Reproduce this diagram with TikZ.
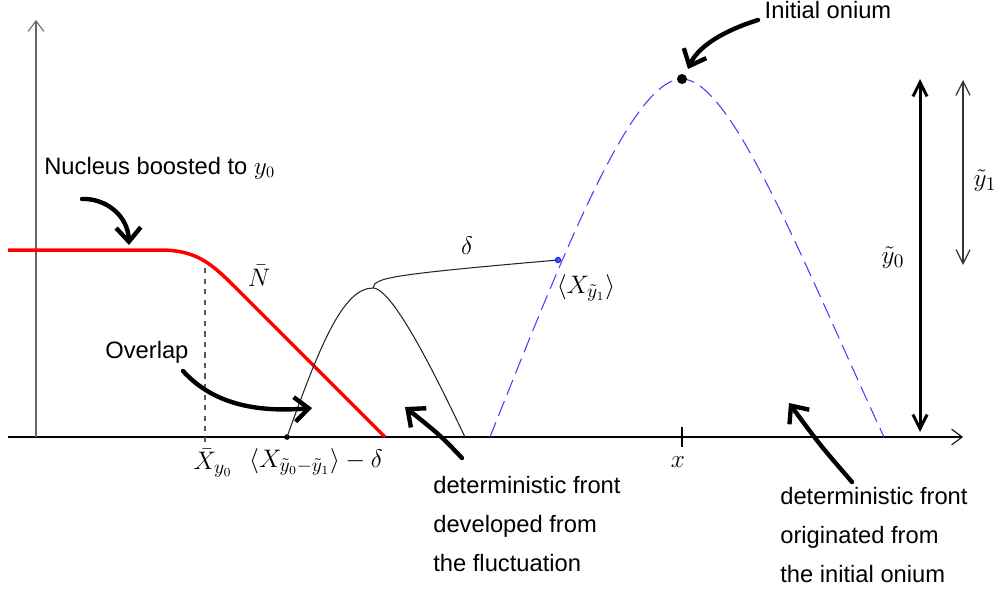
\documentclass[tikz,border=0pt]{standalone}
\usepackage{amsmath,amssymb}
\usepackage{fontspec}
\setmainfont{Liberation Sans}
\usetikzlibrary{arrows.meta,positioning,calc}

\begin{document}
\begin{tikzpicture}[x=0.02cm, y=-0.02cm,
  axis/.style={line width=0.6pt, -{Straight Barb[length=6pt,width=9pt]}},
  front/.style={line width=0.6pt, black!85},
  nucleus/.style={red, line width=2pt},
  onium/.style={blue!75, line width=0.6pt, dash pattern=on 9pt off 4pt},
  hand/.style={line width=2.5pt, line cap=round, -{Straight Barb[length=8pt,width=14pt,line width=2.5pt]}},
  span/.style={{Straight Barb[length=8pt,width=8pt]}-{Straight Barb[length=8pt,width=8pt]}},
  lbl/.style={font=\fontsize{13.5}{22.2}\selectfont, align=left, inner sep=0pt},
  mth/.style={font=\fontsize{15}{18}\selectfont, inner sep=1pt}
]
\useasboundingbox (0,0) rectangle (1000,593);

% axes
\coordinate (xstart) at (8,437);
\coordinate (xend) at (963,437);
\coordinate (origin) at (36,437);
\coordinate (ytop) at (36,20);
\draw[axis] (xstart) -- (xend);
\draw[axis, black!60] (origin) -- (ytop);
\draw[line width=0.6pt] (682,427) -- (682,447);

% nucleus front
\draw[nucleus] (8,250) -- (160,250) .. controls (195,250) and (210,262) .. (235,287) -- (385,437);
\draw[dashed, black!65, line width=0.6pt] (205,268) -- (205,443);

% fluctuation front
\coordinate (fstart) at (287,437);
\coordinate (fpeak) at (373,288);
\fill (fstart) circle (1.6pt);
\draw[front] (fstart) .. controls (320,345) and (343,288) .. (fpeak) .. controls (395,288) and (447,400) .. (465,437);

% onium front
\coordinate (opeak) at (682,79);
\draw[onium] (490,437) .. controls (565,249.5) and (632,79) .. (opeak) .. controls (732,79) and (804,265) .. (884,437);
\node[circle, fill=blue!70, draw=blue, inner sep=0pt, minimum size=1.1mm] (bdot) at (558,260) {};
\node[circle, fill=black, inner sep=0pt, minimum size=2mm] (odot) at (opeak) {};
\draw[front] (fpeak) .. controls (375,278) and (385,275) .. (bdot);

% rapidity spans
\coordinate (y0top) at (920,79);
\coordinate (y0bot) at (920,432);
\coordinate (y1top) at (963,80);
\coordinate (y1bot) at (963,265);
\draw[span, line width=1.7pt] (y0top) -- (y0bot);
\draw[span, line width=0.7pt, black!80] (y1top) -- (y1bot);

% labels
\node[mth] (nbar) at (259,276) {$\bar N$};
\node[mth] (xbar) at (213,463) {$\bar X_{y_0}$};
\node[mth] (xfl) at (316,462) {$\langle X_{\tilde y_0-\tilde y_1}\rangle-\delta$};
\node[mth] (dl) at (467,246) {$\delta$};
\node[mth] (xy1) at (586,288) {$\langle X_{\tilde y_1}\rangle$};
\node[mth] (xl) at (678,462) {$x$};
\node[mth] (ty0) at (893,258) {$\tilde y_0$};
\node[mth] (ty1) at (985,181) {$\tilde y_1$};

\node[lbl, anchor=west] (nucl) at (44,168) {Nucleus boosted to $y_0$};
\node[lbl, anchor=west] (ovl) at (105,352) {Overlap};
\node[lbl] (onium) at (828,10) {Initial onium};
\node[lbl, anchor=north west] (fluct) at (433,476) {deterministic front\\developed from\\the fluctuation};
\node[lbl, anchor=north west] (orig) at (780,487) {deterministic front\\originated from\\the initial onium};

% pointers
\coordinate (nuclfrom) at (82,199);
\coordinate (nuclto) at (129,245);
\coordinate (ovlfrom) at (183,371);
\coordinate (ovlto) at (312,408);
\coordinate (oniumfrom) at (758,20);
\coordinate (oniumto) at (688,69);
\coordinate (fluctfrom) at (462,458);
\coordinate (fluctto) at (405,407);
\coordinate (origfrom) at (852,482);
\coordinate (origto) at (789,403);
\draw[hand] (nuclfrom) .. controls (105,198) and (128,215) .. (nuclto);
\draw[hand] (ovlfrom) .. controls (205,395) and (240,414) .. (ovlto);
\draw[hand] (oniumfrom) .. controls (735,27) and (700,42) .. (oniumto);
\draw[hand] (fluctfrom) .. controls (440,435) .. (fluctto);
\draw[hand] (origfrom) .. controls (820,445) .. (origto);
\end{tikzpicture}
\end{document}
